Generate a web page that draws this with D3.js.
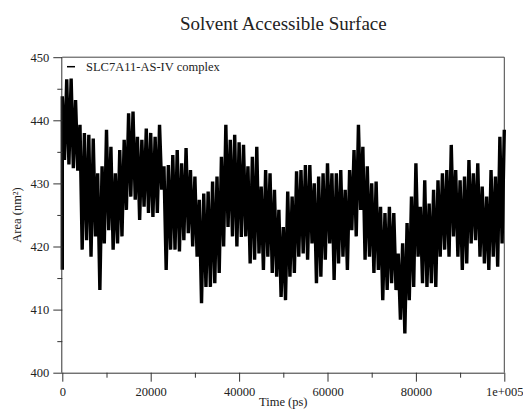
<!DOCTYPE html>
<html>
<head>
<meta charset="utf-8">
<script src="https://cdn.jsdelivr.net/npm/d3@7.9.0/dist/d3.min.js"></script>
<style>
  body { margin: 0; background: #fff; }
  svg { display: block; font-family: "Liberation Serif", "Times New Roman", serif; }
  .axis path, .axis line { stroke: #333; }
  .axis text { font-size: 12.5px; fill: #222; font-family: "Liberation Serif", serif; }
</style>
</head>
<body>
<div id="chart"></div>
<script>
const width = 523;
const height = 409;

// upper peaks of the trace, one every 1000 ps (0 .. 100000)
const hiValues = [
  443.8, 446.5, 446.6, 443.2, 439.3, 438.0, 437.7, 437.1, 431.6, 432.7,
  438.5, 435.8, 431.6, 435.3, 436.9, 441.1, 441.4, 437.4, 436.9, 438.7,
  438.0, 437.4, 439.3, 432.7, 432.9, 434.5, 435.3, 433.2, 435.6, 432.1,
  431.1, 427.4, 428.4, 428.7, 430.3, 431.1, 434.2, 439.3, 436.9, 437.7,
  436.5, 436.1, 432.7, 434.2, 435.8, 429.5, 432.1, 431.6, 429.0, 425.8,
  423.1, 428.7, 427.9, 431.9, 432.1, 432.9, 432.9, 430.0, 431.1, 431.6,
  433.2, 431.6, 431.6, 432.1, 429.0, 432.1, 435.3, 439.3, 435.8, 432.7,
  430.0, 430.3, 426.3, 425.3, 426.3, 425.3, 418.9, 420.5, 423.7, 427.9,
  433.2, 426.3, 430.5, 426.8, 429.0, 430.5, 431.6, 432.1, 436.1, 432.1,
  430.5, 431.1, 433.7, 431.6, 433.2, 429.5, 427.9, 432.1, 431.1, 437.4,
  438.5
];

// lower dips of the trace, one every 1000 ps starting at 500 ps
const loValues = [
  433.7, 433.0, 432.4, 432.0, 419.5, 421.0, 418.4, 421.6, 413.1, 420.5,
  422.6, 419.5, 420.5, 421.6, 425.8, 427.9, 427.4, 424.2, 426.3, 425.3,
  424.7, 425.3, 429.0, 416.3, 419.5, 419.5, 419.2, 421.0, 422.1, 420.0,
  418.4, 411.0, 413.6, 413.6, 414.2, 415.8, 420.0, 423.1, 421.6, 420.0,
  421.5, 421.6, 417.3, 417.9, 418.9, 416.3, 418.4, 415.8, 415.2, 412.0,
  411.5, 415.2, 415.8, 418.4, 418.9, 417.9, 420.5, 414.2, 415.2, 417.9,
  420.5, 414.7, 417.3, 418.4, 416.3, 422.6, 421.6, 425.8, 417.9, 418.4,
  415.8, 416.3, 411.5, 413.1, 414.2, 413.1, 408.4, 406.2, 411.5, 413.6,
  418.4, 414.2, 413.6, 414.2, 413.6, 418.4, 419.5, 418.4, 421.6, 418.4,
  416.3, 417.3, 420.5, 421.0, 418.4, 417.3, 416.3, 418.4, 416.8, 420.5
];

const startValue = 416.3; // first frame
const stepPs = 1000;

const xTicks = [0, 20000, 40000, 60000, 80000, 100000];
const xMinorTicks = [10000, 30000, 50000, 70000, 90000];
const yTicks = [400, 410, 420, 430, 440, 450];
const yMinorTicks = [405, 415, 425, 435, 445];

const titleText = "Solvent Accessible Surface";
const legendLabel = "SLC7A11-AS-IV complex";

// build the trace: start, then alternate peak / dip
const trace = [{ t: 0, v: startValue }];
hiValues.forEach((h, i) => {
    trace.push({ t: i * stepPs, v: h });
    if (i < loValues.length) trace.push({ t: i * stepPs + stepPs / 2, v: loValues[i] });
});

const margin = { top: 57.2, right: 18.7, bottom: 36.3, left: 62.3 };
const usableArea = {
    top: margin.top,
    right: width - margin.right,
    bottom: height - margin.bottom,
    left: margin.left
};

const svg = d3.select('#chart')
    .append('svg')
    .attr('width', width)
    .attr('height', height);

const xScale = d3.scaleLinear()
    .domain([0, 100000])
    .range([usableArea.left, usableArea.right]);

const yScale = d3.scaleLinear()
    .domain([400, 450])
    .range([usableArea.bottom, usableArea.top]);

// frame top / right
svg.append('path')
    .attr('d', `M${usableArea.left},${usableArea.top}H${usableArea.right}V${usableArea.bottom}`)
    .attr('fill', 'none')
    .attr('stroke', '#444')
    .attr('stroke-width', 1);

// data trace (thick stroke so the dense trajectory reads as a solid band)
const line = d3.line()
    .x(d => xScale(d.t))
    .y(d => yScale(d.v));

svg.append('path')
    .datum(trace)
    .attr('d', line)
    .attr('fill', 'none')
    .attr('stroke', '#000')
    .attr('stroke-width', 3.4)
    .attr('stroke-linejoin', 'bevel');

// axes
svg.append('g')
    .attr('class', 'axis')
    .attr('transform', `translate(0,${usableArea.bottom})`)
    .call(d3.axisBottom(xScale)
        .tickValues(xTicks)
        .tickSize(9)
        .tickPadding(5)
        .tickFormat(d => d === 100000 ? '1e+005' : String(d)))
    .call(g => g.select('.domain').attr('d', `M${usableArea.left},0.5H${usableArea.right}`));

svg.append('g')
    .attr('class', 'axis')
    .attr('transform', `translate(0,${usableArea.bottom})`)
    .call(d3.axisBottom(xScale).tickValues(xMinorTicks).tickSize(5).tickFormat(''))
    .call(g => g.select('.domain').remove());

svg.append('g')
    .attr('class', 'axis')
    .attr('transform', `translate(${usableArea.left},0)`)
    .call(d3.axisLeft(yScale).tickValues(yTicks).tickSize(9).tickPadding(4).tickFormat(d3.format('d')))
    .call(g => g.select('.domain').attr('d', `M-0.5,${usableArea.top}V${usableArea.bottom}`));

svg.append('g')
    .attr('class', 'axis')
    .attr('transform', `translate(${usableArea.left},0)`)
    .call(d3.axisLeft(yScale).tickValues(yMinorTicks).tickSize(5).tickFormat(''))
    .call(g => g.select('.domain').remove());

// title
svg.append('text')
    .attr('x', (usableArea.left + usableArea.right) / 2)
    .attr('y', 30)
    .attr('text-anchor', 'middle')
    .style('font-size', '19px')
    .attr('fill', '#222')
    .text(titleText);

// axis labels
svg.append('text')
    .attr('x', (usableArea.left + usableArea.right) / 2)
    .attr('y', 406)
    .attr('text-anchor', 'middle')
    .style('font-size', '12.5px')
    .attr('fill', '#222')
    .text('Time (ps)');

svg.append('text')
    .attr('transform', `translate(21, ${(usableArea.top + usableArea.bottom) / 2}) rotate(-90)`)
    .attr('text-anchor', 'middle')
    .style('font-size', '12.5px')
    .attr('fill', '#222')
    .text('Area (nm²)');

// legend
svg.append('line')
    .attr('x1', 67).attr('x2', 75)
    .attr('y1', 66.7).attr('y2', 66.7)
    .attr('stroke', '#000')
    .attr('stroke-width', 1.5);

svg.append('text')
    .attr('x', 86)
    .attr('y', 71)
    .style('font-size', '12.5px')
    .attr('fill', '#222')
    .text(legendLabel);
</script>
</body>
</html>
